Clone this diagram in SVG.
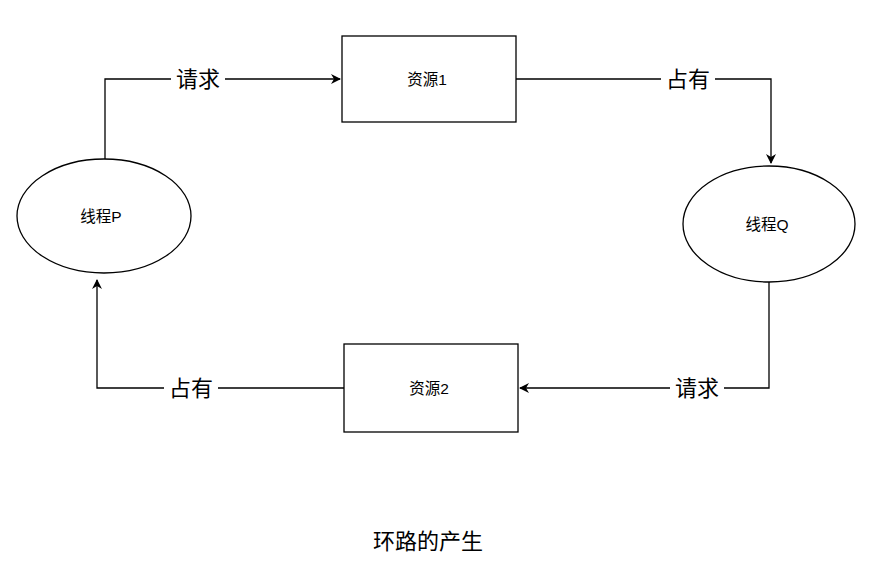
<svg xmlns="http://www.w3.org/2000/svg" width="879" height="561" viewBox="0 0 879 561">
<style>
.node{fill:#fff;stroke:#000;stroke-width:1.3}
.edge{fill:none;stroke:#000;stroke-width:1.3}
.t{font-family:"Liberation Sans","Noto Sans CJK SC",sans-serif;fill:#000;text-anchor:middle;dominant-baseline:central}
.n{font-size:15.5px}
.l{font-size:22px}
.lb{fill:#fff}
</style>
<defs>
<marker id="arr" viewBox="0 0 10 10" refX="9" refY="5" markerWidth="10" markerHeight="10" markerUnits="userSpaceOnUse" orient="auto">
<path d="M0,0 L10,5 L0,10 L3,5 Z" fill="#000"/>
</marker>
</defs>
<g id="connectors">
<path class="edge" d="M105,159 V79 H340" marker-end="url(#arr)"/>
<rect class="lb" x="171" y="67" width="54" height="24"/>
<text class="t l" x="198" y="79">请求</text>
<path class="edge" d="M516,79 H771 V163" marker-end="url(#arr)"/>
<rect class="lb" x="661" y="67" width="54" height="24"/>
<text class="t l" x="688" y="79">占有</text>
<path class="edge" d="M769,282 V388 H520" marker-end="url(#arr)"/>
<rect class="lb" x="670" y="376" width="54" height="24"/>
<text class="t l" x="697" y="388">请求</text>
<path class="edge" d="M344,388 H97 V280" marker-end="url(#arr)"/>
<rect class="lb" x="164" y="376" width="54" height="24"/>
<text class="t l" x="191" y="388">占有</text>
</g>
<g id="resource1">
<rect class="node" x="342" y="36" width="174" height="86"/>
<text class="t n" x="427" y="79">资源1</text>
</g>
<g id="resource2">
<rect class="node" x="344" y="344" width="174" height="88"/>
<text class="t n" x="429" y="388">资源2</text>
</g>
<g id="threadP">
<ellipse class="node" cx="104" cy="216" rx="87" ry="57"/>
<text class="t n" x="101" y="216">线程P</text>
</g>
<g id="threadQ">
<ellipse class="node" cx="769" cy="224" rx="86" ry="58"/>
<text class="t n" x="767" y="224">线程Q</text>
</g>
<g id="title">
<text class="t" style="font-size:22px" x="428" y="541">环路的产生</text>
</g>
</svg>
